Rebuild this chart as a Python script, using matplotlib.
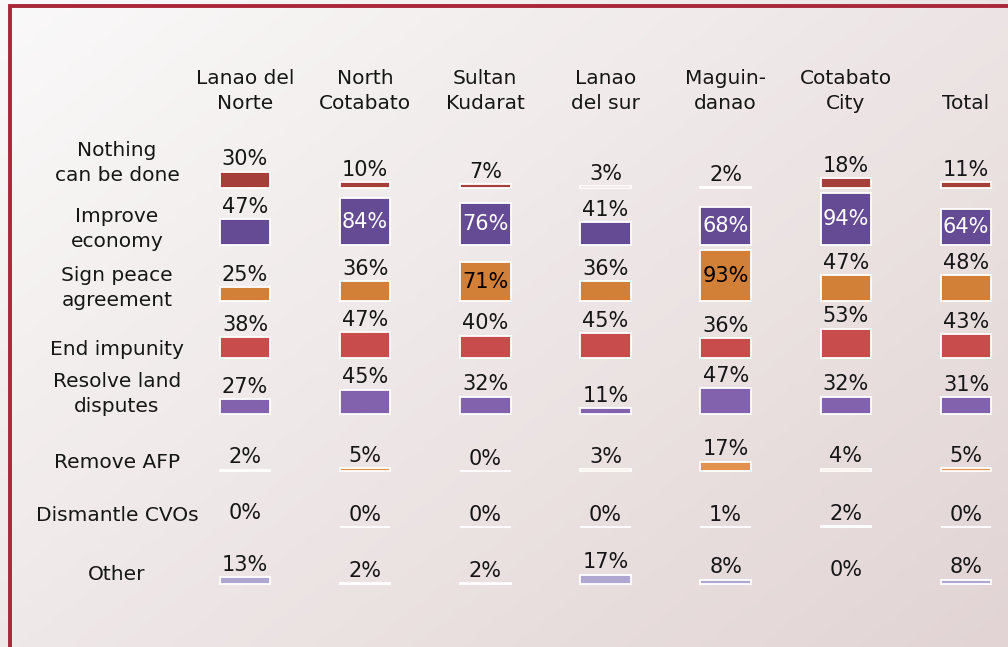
import numpy as np
import matplotlib
matplotlib.use("Agg")
import matplotlib.pyplot as plt

# columns (regions) and rows (answers)
regions = ["Lanao del\nNorte", "North\nCotabato", "Sultan\nKudarat", "Lanao\ndel sur",
           "Maguin-\ndanao", "Cotabato\nCity", "Total"]
answers = ["Nothing\ncan be done", "Improve\neconomy", "Sign peace\nagreement", "End impunity",
           "Resolve land\ndisputes", "Remove AFP", "Dismantle CVOs", "Other"]

nothing = [30, 10, 7, 3, 2, 18, 11]
economy = [47, 84, 76, 41, 68, 94, 64]
peace = [25, 36, 71, 36, 93, 47, 48]
impunity = [38, 47, 40, 45, 36, 53, 43]
land = [27, 45, 32, 11, 47, 32, 31]
afp = [2, 5, 0, 3, 17, 4, 5]
cvos = [0, 0, 0, 0, 1, 2, 0]
other = [13, 2, 2, 17, 8, 0, 8]
values = [nothing, economy, peace, impunity, land, afp, cvos, other]

# cells where the original shows no bar at all
no_bar = [(6, 0), (7, 5)]

# style
row_colors = ["#a53f3a", "#654b93", "#d27f37", "#c84c4b", "#8262ad", "#e1924c", "#f3e6e4", "#b0a6d2"]
inside_text = ["white", "white", "black", "white", "white", "black", "black", "black"]
label_dy = [-0.44, -0.28, -0.23, -0.14, -0.35, -0.14, -0.21, -0.16]
scale = 0.0097          # row units per percent
bar_w = 0.42
fs = 14.5
txt = "#161616"

fig = plt.figure(figsize=(10.08, 6.47), dpi=100)
ax = fig.add_axes([0, 0, 1, 1])
ax.set_xlim(-2.038, 6.349)
ax.set_ylim(8.114, -3.323)
ax.axis("off")

# background gradient
gx, gy = np.meshgrid(np.linspace(0, 1, 200), np.linspace(0, 1, 200))
t = np.clip(0.55 * gx + 0.45 * gy, 0, 1)
c0 = np.array([250, 249, 249]) / 255
c1 = np.array([226, 212, 212]) / 255
grad = c0[None, None, :] * (1 - t[..., None]) + c1[None, None, :] * t[..., None]
ax.imshow(grad, extent=[-2.038, 6.349, 8.114, -3.323], aspect="auto", zorder=0)

# red frame (left and top)
ax.plot([10 / 1008, 10 / 1008, 1], [0, 1 - 6 / 647, 1 - 6 / 647], transform=ax.transAxes,
        color="#a8283a", lw=2.8, solid_capstyle="butt", solid_joinstyle="miter", zorder=1)

cols = np.arange(len(regions))
for i, row in enumerate(values):
    row = np.array(row, dtype=float)
    drawn = [j for j in cols if (i, j) not in no_bar]
    ax.bar(cols[drawn], -row[drawn] * scale, bottom=i, width=bar_w, color=row_colors[i],
           edgecolor="white", linewidth=1.3, zorder=2)
    for j, v in enumerate(row):
        top = i - v * scale
        if (i, j) in no_bar:
            ax.text(j, i - 0.25, f"{int(v)}%", ha="center", va="center", fontsize=15,
                    color=txt, zorder=3)
        elif v >= 60:
            ax.text(j, (i + top) / 2, f"{int(v)}%", ha="center", va="center", fontsize=15,
                    color=inside_text[i], zorder=3)
        else:
            ax.annotate(f"{int(v)}%", (j, top), xytext=(0, 4.5), textcoords="offset points",
                        ha="center", va="baseline", fontsize=15, color=txt, zorder=3)
    ax.text(-1.065, i + label_dy[i], answers[i], ha="center", va="center", fontsize=fs,
            linespacing=1.4, color=txt, zorder=3)

for j, name in enumerate(regions):
    ax.text(j, -1.33, name, ha="center", va="bottom", fontsize=fs, linespacing=1.4,
            multialignment="center", color=txt, zorder=3)

fig.savefig("out.png", dpi=100)
